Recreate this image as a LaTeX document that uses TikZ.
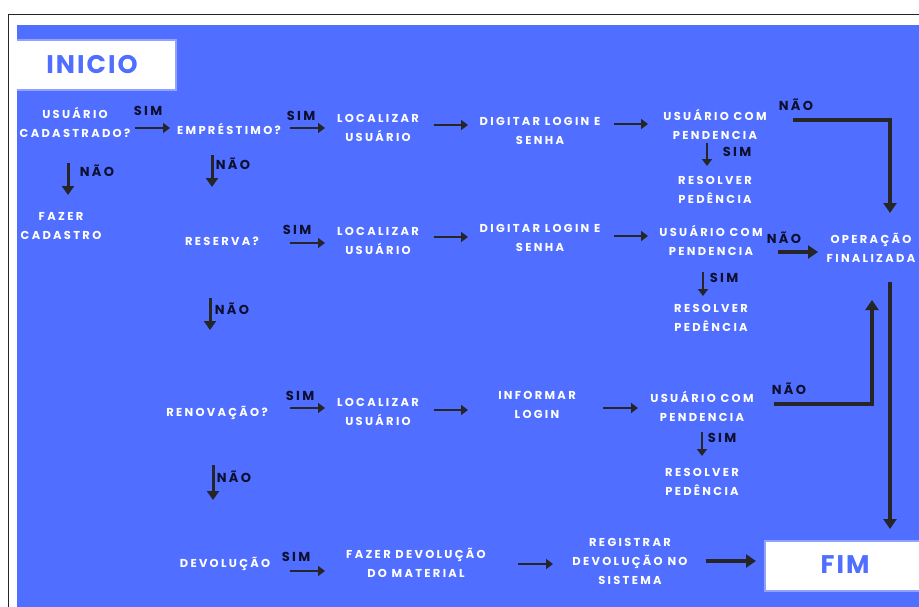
\documentclass[tikz,border=0pt]{standalone}
\usepackage{fontspec}
\usetikzlibrary{arrows.meta,calc}
\newfontfamily\popw{Poppins}[LetterSpace=20]
\newfontfamily\popb{Poppins}[LetterSpace=8]
\newfontfamily\popl{Poppins}[LetterSpace=18]
\definecolor{bgblue}{HTML}{506EFF}
\definecolor{edgeblue}{HTML}{8FA2FF}
\definecolor{ink}{HTML}{262626}
\definecolor{lab}{HTML}{0D0F2E}
\tikzset{
  txt/.style={text=white,align=center,inner sep=0pt,font=\popw\bfseries\fontsize{11.5}{19}\selectfont},
  lbl/.style={text=lab,inner sep=0pt,font=\popl\bfseries\fontsize{13}{14}\selectfont},
  bigbox/.style={fill=white,draw=edgeblue,line width=2pt},
  bigtxt/.style={text=bgblue,inner sep=0pt,font=\popb\bfseries\fontsize{25.5}{27}\selectfont},
  arr/.style={draw=ink,line width=2.4pt,-{Triangle[length=7pt,width=10pt]}},
  arrdn/.style={draw=ink,line width=3pt,-{Triangle[length=9pt,width=12pt]}},
  thick arr/.style={draw=ink,line width=3.5pt,-{Triangle[length=10pt,width=13pt]}},
  conn/.style={draw=ink,line width=3.2pt,-{Triangle[length=10pt,width=13pt]}}
}
\begin{document}
\begin{tikzpicture}[x=1pt,y=-1pt]
\useasboundingbox (0,0) rectangle (919,606);
% frame and background
\fill[white] (0,0) rectangle (919,606);
\draw[ink,line width=1.4pt] (8.5,620) -- (8.5,14.5) -- (930,14.5);
\fill[bgblue] (17,25) rectangle (925,612);
% terminal boxes
\begin{scope}
\clip (17,25) rectangle (925,612);
\draw[bigbox] (15,40) rectangle (176,90);
\draw[bigbox] (765,541) rectangle (930,591);
\end{scope}
\node[bigtxt] (inicio) at (92,65) {INICIO};
\node[bigtxt] (fim) at (845,565) {FIM};
% text nodes
\node[txt] (uc) at (75,122) {USUÁRIO\\CADASTRADO?};
\node[txt] (emp) at (229,129) {EMPRÉSTIMO?};
\node[txt] (loc1) at (378,128) {LOCALIZAR\\USUÁRIO};
\node[txt] (dig1) at (540,131) {DIGITAR LOGIN E\\SENHA};
\node[txt] (pen1) at (715,124) {USUÁRIO COM\\PENDENCIA};
\node[txt] (res1) at (715,190) {RESOLVER\\PEDÊNCIA};
\node[txt] (fc) at (61,226) {FAZER\\CADASTRO};
\node[txt] (res) at (222,241) {RESERVA?};
\node[txt] (loc2) at (378,241) {LOCALIZAR\\USUÁRIO};
\node[txt] (dig2) at (540,238) {DIGITAR LOGIN E\\SENHA};
\node[txt] (pen2) at (711,240) {USUÁRIO COM\\PENDENCIA};
\node[txt] (op) at (871,248) {OPERAÇÃO\\FINALIZADA};
\node[txt] (res2) at (711,318) {RESOLVER\\PEDÊNCIA};
\node[txt] (ren) at (217,413) {RENOVAÇÃO?};
\node[txt] (loc3) at (378,412) {LOCALIZAR\\USUÁRIO};
\node[txt] (inf) at (537,405) {INFORMAR\\LOGIN};
\node[txt] (pen3) at (702,406) {USUÁRIO COM\\PENDENCIA};
\node[txt] (res3) at (702,482) {RESOLVER\\PEDÊNCIA};
\node[txt] (dev) at (225,564) {DEVOLUÇÃO};
\node[txt] (fd) at (416,563) {FAZER DEVOLUÇÃO\\DO MATERIAL};
\node[txt] (reg) at (630,561) {REGISTRAR\\DEVOLUÇÃO NO\\SISTEMA};
% labels
\node[lbl] (s1) at (148,111) {SIM};
\node[lbl] (s2) at (301,116) {SIM};
\node[lbl] (n1) at (796,105) {NÃO};
\node[lbl] (s3) at (737,152) {SIM};
\node[lbl] (n2) at (97,171) {NÃO};
\node[lbl] (n3) at (233,164) {NÃO};
\node[lbl] (s4) at (297,230) {SIM};
\node[lbl] (n4) at (784,238) {NÃO};
\node[lbl] (s5) at (724,278) {SIM};
\node[lbl] (n5) at (232,309) {NÃO};
\node[lbl] (s6) at (300,396) {SIM};
\node[lbl] (n6) at (789,389) {NÃO};
\node[lbl] (s7) at (722,438) {SIM};
\node[lbl] (n7) at (234,477) {NÃO};
\node[lbl] (s8) at (296,557) {SIM};
% connectors
\draw[arr] ($(uc)+(60,6)$) -- ($(emp)+(-59,-1)$);
\draw[arr] ($(emp)+(61,-1)$) -- ($(loc1)+(-53,0)$);
\draw[arr] ($(loc1)+(56,-3)$) -- ($(dig1)+(-72,-6)$);
\draw[arr] ($(dig1)+(74,-7)$) -- ($(pen1)+(-67,0)$);
\draw[conn] ($(pen1)+(78,-4)$) -| ($(op)+(19,-35)$);
\draw[arr] ($(pen1)+(-8,19)$) -- ($(res1)+(-8,-24)$);
\draw[arrdn] ($(uc)+(-7,41)$) -- ($(fc)+(7,-31)$);
\draw[arrdn] ($(emp)+(-17,26)$) -- ($(res)+(-10,-54)$);
\draw[arr] ($(res)+(68,2)$) -- ($(loc2)+(-53,2)$);
\draw[arr] ($(loc2)+(56,-4)$) -- ($(dig2)+(-72,-1)$);
\draw[arr] ($(dig2)+(74,-2)$) -- ($(pen2)+(-63,-4)$);
\draw[thick arr] ($(pen2)+(67,12)$) -- ($(op)+(-53,4)$);
\draw[arr] ($(pen2)+(-8,32)$) -- ($(res2)+(-8,-22)$);
\draw[arrdn] ($(res)+(-12,57)$) -- ($(ren)+(-7,-83)$);
\draw[arr] ($(ren)+(73,-5)$) -- ($(loc3)+(-53,-4)$);
\draw[arr] ($(loc3)+(56,-2)$) -- ($(inf)+(-69,5)$);
\draw[arr] ($(inf)+(66,3)$) -- ($(pen3)+(-64,2)$);
\draw[conn] ($(pen3)+(72,-2)$) -| ($(op)+(1,52)$);
\draw[conn] ($(op)+(19,34)$) -- ($(fim)+(45,-36)$);
\draw[arr] ($(pen3)+(0,26)$) -- ($(res3)+(0,-26)$);
\draw[arrdn] ($(ren)+(-4,52)$) -- ($(dev)+(-12,-64)$);
\draw[arr] ($(dev)+(65,7)$) -- ($(fd)+(-91,8)$);
\draw[arr] ($(fd)+(102,1)$) -- ($(reg)+(-77,3)$);
\draw[thick arr] ($(reg)+(76,0)$) -- ($(fim)+(-89,-4)$);
\end{tikzpicture}
\end{document}
